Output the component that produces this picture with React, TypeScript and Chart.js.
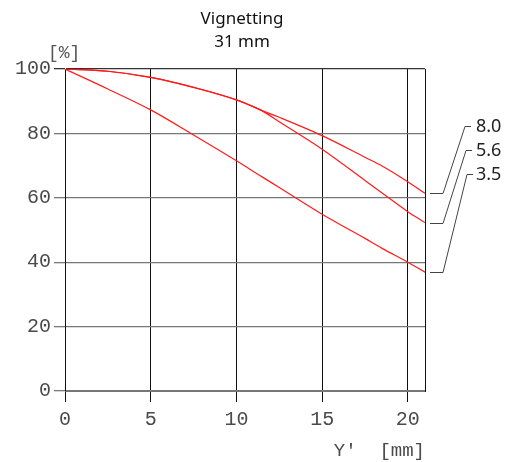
import React, { useEffect, useRef } from "react";
import { Chart, registerables } from "chart.js";

Chart.register(...registerables);

const titleLines = ["Vignetting", "31 mm"];
const yUnit = "[%]";
const xTitle = "Y'  [mm]";
const imageHeights = [0, 2.5, 5, 7.5, 10, 11.5, 12.5, 15, 17.5, 18.5, 20, 21];
const apertures = ["8.0", "5.6", "3.5"];
const f80 = [100, 99.3, 97.4, 94.3, 90.4, 87.1, 85.0, 79.3, 72.6, 69.9, 65.0, 61.4];
const f56 = [100, 99.3, 97.4, 94.3, 90.4, 87.0, 83.6, 75.1, 65.4, 61.5, 55.7, 52.3];
const f35 = [100, 93.8, 87.3, 79.5, 71.5, 66.5, 63.2, 54.9, 47.4, 44.3, 40.0, 36.9];
const xTicks = [0, 5, 10, 15, 20];
const yTicks = [0, 20, 40, 60, 80, 100];
const seriesValues = [f80, f56, f35];

const MONO = "'Liberation Mono', 'DejaVu Sans Mono', monospace";
const SANS = "'Noto Sans', 'DejaVu Sans', sans-serif";

const annotPlugin = {
  id: "annot",
  afterDraw(chart: any) {
    const { ctx, chartArea } = chart;
    ctx.save();
    // title
    ctx.fillStyle = "#111";
    ctx.font = `17px ${SANS}`;
    ctx.textAlign = "center";
    ctx.textBaseline = "middle";
    const cx = (chartArea.left + chartArea.right) / 2 - 3;
    ctx.fillText(titleLines[0], cx, 19);
    ctx.fillText(titleLines[1], cx, 42);
    // y unit
    ctx.fillStyle = "#555";
    ctx.font = `18px ${MONO}`;
    ctx.textAlign = "left";
    ctx.fillText(yUnit, 48, 53);
    // leader lines + labels
    ctx.strokeStyle = "#444";
    ctx.lineWidth = 1;
    ctx.font = `18px ${SANS}`;
    ctx.fillStyle = "#222";
    apertures.forEach((lab, i) => {
      const meta = chart.getDatasetMeta(i);
      const last = meta.data[meta.data.length - 1];
      const yEnd = Math.round(last.y) + 0.5;
      const r = chartArea.right;
      const yLab = chartArea.top + 57.5 + i * 24;
      ctx.beginPath();
      ctx.moveTo(r + 5, yEnd);
      ctx.lineTo(r + 18, yEnd);
      ctx.lineTo(r + 40 + i * 1, yLab);
      ctx.lineTo(r + 46 + i * 1, yLab);
      ctx.stroke();
      ctx.textAlign = "left";
      ctx.textBaseline = "middle";
      ctx.fillText(lab, r + 51, yLab);
    });
    ctx.restore();
  },
};

export default function App() {
  const ref = useRef<HTMLCanvasElement>(null);
  useEffect(() => {
    document.body.style.margin = "0";
    const chart = new Chart(ref.current!, {
      type: "line",
      data: {
        datasets: seriesValues.map((vals, i) => ({
          label: apertures[i],
          data: vals.map((v, j) => ({ x: imageHeights[j], y: v })),
          borderColor: "#ff1a1a",
          borderWidth: 1.2,
          pointRadius: 0,
          fill: false,
          cubicInterpolationMode: "monotone" as const,
        })),
      },
      options: {
        animation: false,
        responsive: false,
        layout: { padding: { top: 69, right: 88, left: 0, bottom: 0 } },
        plugins: { legend: { display: false }, title: { display: false }, tooltip: { enabled: false } },
        scales: {
          x: {
            type: "linear",
            min: 0,
            max: 21,
            afterBuildTicks: (s: any) => {
              s.ticks = xTicks.map((v) => ({ value: v }));
            },
            afterFit: (s: any) => {
              s.height = 71;
            },
            grid: { color: "#111", lineWidth: 1, tickLength: 11, drawTicks: true },
            border: { display: true, color: "#777", width: 1 },
            ticks: { color: "#4a4a4a", font: { family: MONO, size: 20 }, padding: 6, maxRotation: 0 },
            title: {
              display: true,
              text: xTitle,
              align: "end",
              color: "#4a4a4a",
              font: { family: MONO, size: 19 },
              padding: { top: 0, bottom: 0 },
            },
          },
          y: {
            type: "linear",
            min: 0,
            max: 100,
            afterBuildTicks: (s: any) => {
              s.ticks = yTicks.map((v) => ({ value: v }));
            },
            afterFit: (s: any) => {
              s.width = 65;
            },
            grid: {
              color: (c: any) => (c.tick && c.tick.value === 100 ? "#333" : "#777"),
              lineWidth: 1.3,
              tickLength: 11,
            },
            border: { display: true, color: "#111", width: 1 },
            ticks: { color: "#4a4a4a", font: { family: MONO, size: 20 }, padding: 3 },
          },
          yr: {
            type: "linear",
            position: "right",
            min: 0,
            max: 100,
            afterFit: (s: any) => {
              s.width = 0;
            },
            grid: { display: false },
            ticks: { display: false },
            border: { display: true, color: "#111", width: 1 },
          },
        },
      },
      plugins: [annotPlugin],
    });
    return () => chart.destroy();
  }, []);
  return (
    <div style={{ width: 513, height: 462 }}>
      <canvas ref={ref} width={513} height={462} />
    </div>
  );
}
